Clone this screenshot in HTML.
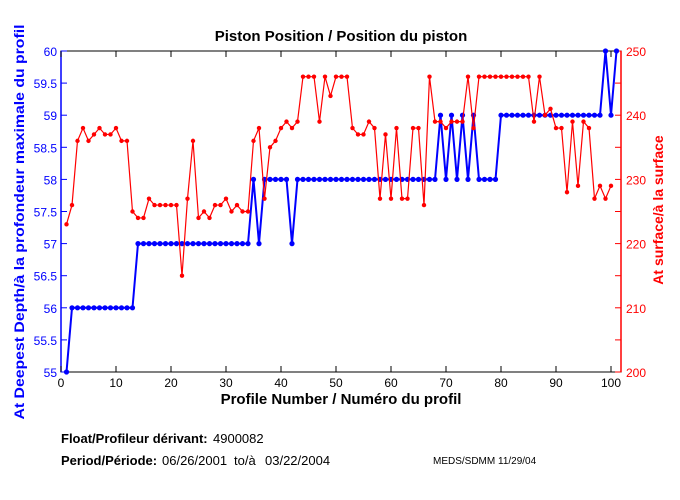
<!DOCTYPE html>
<html><head><meta charset="utf-8"><style>body{margin:0;background:#fff}svg{display:block}</style></head>
<body>
<svg width="680" height="500" xmlns="http://www.w3.org/2000/svg" font-family="Liberation Sans, sans-serif">
<rect width="680" height="500" fill="#fff"/>
<text x="341" y="41" font-size="15" font-weight="bold" text-anchor="middle">Piston Position / Position du piston</text>
<g id="plot"></g>
<text x="341" y="404" font-size="15" font-weight="bold" text-anchor="middle">Profile Number / Numéro du profil</text>
<text transform="translate(24,222) rotate(-90)" font-size="14" font-weight="bold" fill="#00f" text-anchor="middle" textLength="395" lengthAdjust="spacingAndGlyphs">At Deepest Depth/à la profondeur maximale du profil</text>
<text transform="translate(663,210) rotate(-90)" font-size="14" font-weight="bold" fill="#f00" text-anchor="middle">At surface/à la surface</text>
<text x="61" y="443" font-size="13" font-weight="bold">Float/Profileur dérivant:</text>
<text x="213" y="443" font-size="13">4900082</text>
<text x="61" y="465" font-size="13" font-weight="bold">Period/Période:</text>
<text x="162" y="465" font-size="13">06/26/2001</text>
<text x="234" y="465" font-size="13">to/à</text>
<text x="265" y="465" font-size="13">03/22/2004</text>
<text x="433" y="464" font-size="10">MEDS/SDMM  11/29/04</text>
</svg>
<script>
const g=document.getElementById('plot'),NS='http://www.w3.org/2000/svg';
function el(t,a,txt){const e=document.createElementNS(NS,t);for(const k in a)e.setAttribute(k,a[k]);if(txt!==undefined)e.textContent=txt;g.appendChild(e);return e;}
const L=61,R=621,T=51,B=372;
const X=i=>L+i*5.5, YL=v=>B-(v-55)*64.2, YR=v=>B-(v-200)*6.42;
el('rect',{x:L,y:T,width:R-L,height:B-T,fill:'none',stroke:'#000','stroke-width':1});
el('line',{x1:L,y1:T,x2:L,y2:B,stroke:'#00f','stroke-width':1.5});
el('line',{x1:R,y1:T,x2:R,y2:B,stroke:'#f00','stroke-width':1.5});
for(let i=0;i<=100;i+=10){const x=X(i);el('line',{x1:x,y1:B,x2:x,y2:B-6,stroke:'#000'});el('line',{x1:x,y1:T,x2:x,y2:T+6,stroke:'#000'});
el('text',{x:x,y:B+15,'font-size':12,'text-anchor':'middle'},String(i));}
for(let v=55;v<=60.001;v+=0.5){const y=YL(v);el('line',{x1:L,y1:y,x2:L+6,y2:y,stroke:'#00f'});
el('text',{x:L-4,y:y+5,'font-size':12,'text-anchor':'end',fill:'#00f'},(Math.round(v*10)/10).toString());}
for(let v=200;v<=250;v+=5){const y=YR(v);el('line',{x1:R,y1:y,x2:R-6,y2:y,stroke:'#f00'});
if(v%10==0)el('text',{x:R+5,y:y+5,'font-size':12,fill:'#f00'},String(v));}
const blue=[55];for(let i=2;i<=13;i++)blue.push(56);for(let i=14;i<=34;i++)blue.push(57);
blue.push(58,57,58,58,58,58,58,57);for(let i=43;i<=68;i++)blue.push(58);
blue.push(59,58,59,58,59,58,59,58,58,58,58);for(let i=80;i<=98;i++)blue.push(59);blue.push(60,59,60);
const red=[223,226,236,238,236,237,238,237,237,238,236,236,225,224,224,227,226,226,226,226,226,215,227,236,224,225,224,226,226,227,225,226,225,225,236,238,227,235,236,238,239,238,239,246,246,246,239,246,243,246,246,246,238,237,237,239,238,227,237,227,238,227,227,238,238,226,246,239,239,238,239,239,239,246,238,246,246,246,246,246,246,246,246,246,246,239,246,240,241,238,238,228,239,229,239,238,227,229,227,229];
function series(d,f,col,w,r){el('polyline',{points:d.map((v,i)=>X(i+1)+','+f(v)).join(' '),fill:'none',stroke:col,'stroke-width':w});
d.forEach((v,i)=>el('circle',{cx:X(i+1),cy:f(v),r:r,fill:col}));}
series(blue,YL,'#00f',2,2.6);
series(red,YR,'#f00',1.2,2.2);
</script>
</body></html>
